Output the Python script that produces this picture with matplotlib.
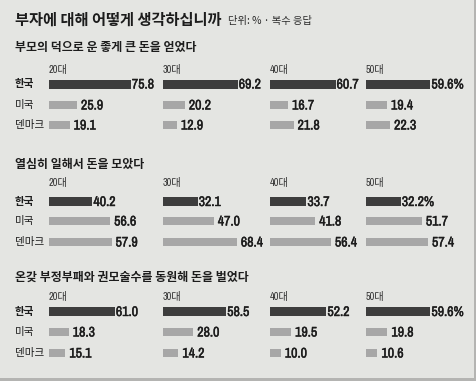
import matplotlib
matplotlib.use("Agg")
import matplotlib.pyplot as plt
import matplotlib.patheffects as pe
from matplotlib.patches import Rectangle
from matplotlib import font_manager

# data
title = "부자에 대해 어떻게 생각하십니까"
unit_note = "단위: % · 복수 응답"
questions = ["부모의 덕으로 운 좋게 큰 돈을 얻었다",
             "열심히 일해서 돈을 모았다",
             "온갖 부정부패와 권모술수를 동원해 돈을 벌었다"]
age_groups = ["20대", "30대", "40대", "50대"]
countries = ["한국", "미국", "덴마크"]

# values[question][country] -> per age group
q1_korea = [75.8, 69.2, 60.7, 59.6]
q1_usa = [25.9, 20.2, 16.7, 19.4]
q1_denmark = [19.1, 12.9, 21.8, 22.3]
q2_korea = [40.2, 32.1, 33.7, 32.2]
q2_usa = [56.6, 47.0, 41.8, 51.7]
q2_denmark = [57.9, 68.4, 56.4, 57.4]
q3_korea = [61.0, 58.5, 52.2, 59.6]
q3_usa = [18.3, 28.0, 19.5, 19.8]
q3_denmark = [15.1, 14.2, 10.0, 10.6]

values = [[q1_korea, q1_usa, q1_denmark],
          [q2_korea, q2_usa, q2_denmark],
          [q3_korea, q3_usa, q3_denmark]]

# layout (pixels)
W, H = 477, 381
group_x = [49, 163, 270, 366]
sect_title_y = [47, 164, 277]
age_label_y = [70, 183, 297]
row_y = [[84, 105, 125], [201.5, 221, 242], [311.5, 332, 353]]
px_per_pct = 1.08
bar_h = 9

bg = "#e4e5e2"
dark = "#3d3d3d"
light = "#a7a7a7"
txt = "#1c1c1c"

kr = "Noto Sans CJK KR"
# look for a condensed latin face for the figures, else plain Liberation Sans
names = sorted({f.name for f in font_manager.fontManager.ttflist})
narrow = [n for n in names if "Narrow" in n or "Condensed" in n]
num_font = narrow[0] if narrow else "Liberation Sans"
num_size = 10 if narrow else 8
num_fam = [num_font, kr]
heavy = [pe.withStroke(linewidth=0.3, foreground=txt)]

fig = plt.figure(figsize=(W / 100, H / 100), dpi=100, facecolor=bg)
ax = fig.add_axes([0, 0, 1, 1])
ax.set_xlim(0, W)
ax.set_ylim(H, 0)
ax.axis("off")
ax.set_facecolor(bg)

# frame edges on right and bottom
ax.add_patch(Rectangle((474.5, 0), 3, H, color="#b4b4b2", lw=0))
ax.add_patch(Rectangle((0, 377.5), W, 4, color="#b4b4b2", lw=0))

ax.text(15, 20, title, family=kr, fontsize=11, fontweight="bold", color=txt, va="center")
ax.text(228, 21, unit_note, family=kr, fontsize=7.4, color="#2a2a2a", va="center")

for s, q in enumerate(questions):
    ax.text(15, sect_title_y[s], q, family=kr, fontsize=8.6, fontweight="bold", color=txt, va="center")
    for c, name in enumerate(countries):
        ax.text(15, row_y[s][c], name, family=kr, fontsize=7.6,
                fontweight="bold" if c == 0 else "normal", color=txt, va="center")
    for g, age in enumerate(age_groups):
        ax.text(group_x[g], age_label_y[s], age, family=num_fam, fontsize=7.4, color="#333333", va="center")
        for c in range(3):
            v = values[s][c][g]
            col = dark if c == 0 else light
            ax.barh(row_y[s][c], v * px_per_pct, left=group_x[g], height=bar_h if c == 0 else bar_h - 1,
                    color=col, lw=0)
            label = "%.1f" % v
            if c == 0 and g == 3:
                label += "%"
            gap = 1.0 if c == 0 else 4.0
            ax.text(group_x[g] + v * px_per_pct + gap, row_y[s][c] + 0.5, label, family=num_fam,
                    fontsize=num_size, fontweight="bold", color=txt, va="center", path_effects=heavy)

fig.savefig("out.png", dpi=100, facecolor=bg)
